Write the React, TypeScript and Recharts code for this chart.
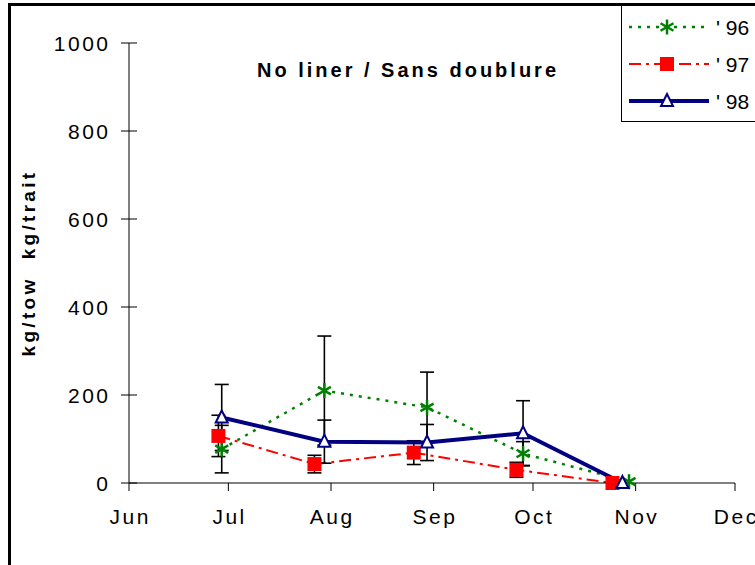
import React from 'react';
import { LineChart, Line, XAxis, YAxis, ErrorBar, Legend } from 'recharts';

// x positions are days counted from 1 June
const MONTHS = ['Jun', 'Jul', 'Aug', 'Sep', 'Oct', 'Nov', 'Dec'];
const MONTH_START_DAYS = [0, 30, 61, 92, 122, 153, 183];
const Y_TICKS = [0, 200, 400, 600, 800, 1000];

const days96 = [28, 59, 90, 119, 151];
const kg96 = [77, 210, 172, 67, 3];
const err96 = [54, 124, 80, 27, 0];

const days97 = [27, 56, 86, 117, 146];
const kg97 = [107, 43, 69, 30, 0];
const err97 = [47, 20, 27, 17, 0];

const days98 = [28, 59, 90, 119, 149];
const kg98 = [149, 94, 92, 113, 0];
const err98 = [75, 49, 41, 74, 0];

const FONT = '"Liberation Sans", Arial, Helvetica, sans-serif';

type Kind = 'star' | 'square' | 'triangle';

const toPoints = (days: number[], kg: number[], err: number[]) =>
  days.map((d, i) => ({ day: d, kg: kg[i], err: err[i] }));

const SERIES = [
  { name: "' 96", data: toPoints(days96, kg96, err96), color: '#008000', dash: '3 6', width: 2.5, kind: 'star' as Kind },
  { name: "' 97", data: toPoints(days97, kg97, err97), color: '#ff0000', dash: '12 5 3 5', width: 2, kind: 'square' as Kind },
  { name: "' 98", data: toPoints(days98, kg98, err98), color: '#000080', dash: undefined, width: 4, kind: 'triangle' as Kind },
];

function Marker({ kind, cx, cy, color }: { kind: Kind; cx: number; cy: number; color: string }) {
  if (kind === 'star') {
    const r = 7.5;
    const arms = [90, 30, 150].map((a) => {
      const dx = r * Math.cos((a * Math.PI) / 180);
      const dy = r * Math.sin((a * Math.PI) / 180);
      return <line key={a} x1={cx - dx} y1={cy - dy} x2={cx + dx} y2={cy + dy} stroke={color} strokeWidth={2.5} />;
    });
    return <g>{arms}</g>;
  }
  if (kind === 'square') {
    return <rect x={cx - 7} y={cy - 7} width={14} height={14} fill={color} />;
  }
  return (
    <polygon
      points={`${cx},${cy - 7} ${cx - 6},${cy + 5} ${cx + 6},${cy + 5}`}
      fill="#fff"
      stroke={color}
      strokeWidth={2}
      strokeLinejoin="miter"
    />
  );
}

const XTick = (props: any) => {
  const { x, y, payload } = props;
  const label = MONTHS[MONTH_START_DAYS.indexOf(payload.value)];
  return (
    <text x={x + 1.25} y={y} dy="0.71em" textAnchor="middle" fill="#000"
      style={{ fontFamily: FONT, fontSize: 21, letterSpacing: 2.5 }}>
      {label}
    </text>
  );
};

const Y_TICK_SIZE = 8;
const Y_TICK_MARGIN = 11;

const YTick = (props: any) => {
  const { x, y, payload } = props;
  const axisX = x + Y_TICK_SIZE + Y_TICK_MARGIN;
  return (
    <g>
      <line x1={axisX - Y_TICK_SIZE} x2={axisX + Y_TICK_SIZE} y1={y} y2={y} stroke="#000" strokeWidth={1} />
      <text x={x + 0.5} y={y} dy="0.36em" textAnchor="end" fill="#000"
        style={{ fontFamily: FONT, fontSize: 21, letterSpacing: 2.5 }}>
        {payload.value}
      </text>
    </g>
  );
};

const YLabel = (props: any) => {
  const vb = props.viewBox || { x: 0, y: 43, width: 129, height: 440 };
  const cx = vb.x + 35;
  const cy = vb.y + vb.height / 2;
  return (
    <text x={cx} y={cy} transform={`rotate(-90, ${cx}, ${cy})`} textAnchor="middle" fill="#000"
      style={{ fontFamily: FONT, fontSize: 19, fontWeight: 'bold', letterSpacing: 3.3, whiteSpace: 'pre' }}>
      {'kg/tow  kg/trait'}
    </text>
  );
};

const LegendBox = () => (
  <svg width={150} height={115}>
    {SERIES.map((s, i) => {
      const y = 21 + i * 37;
      return (
        <g key={s.name}>
          <line x1={7} x2={87} y1={y} y2={y} stroke={s.color} strokeWidth={s.width} strokeDasharray={s.dash} />
          <Marker kind={s.kind} cx={45} cy={y} color={s.color} />
          <text x={94} y={y} dy="0.36em" fill="#000" style={{ fontFamily: FONT, fontSize: 21 }}>
            {s.name}
          </text>
        </g>
      );
    })}
  </svg>
);

export default function App() {
  return (
    <div style={{ position: 'absolute', left: 0, top: 0, width: 755, height: 565, overflow: 'hidden', background: '#fff' }}>
      <div style={{ position: 'absolute', left: 8, top: 3, width: 800, height: 620, border: '3px solid #000', boxSizing: 'border-box' }} />
      <div style={{
        position: 'absolute', left: 208, top: 60, width: 400, textAlign: 'center',
        fontFamily: FONT, fontSize: 20, lineHeight: '20px', fontWeight: 'bold', letterSpacing: 3,
      }}>
        No liner / Sans doublure
      </div>
      <div style={{ position: 'absolute', left: 0, top: 0 }}>
        <LineChart width={755} height={565} data={SERIES[0].data} margin={{ top: 43, right: 20, bottom: 22, left: 0 }}>
          <XAxis
            type="number"
            dataKey="day"
            domain={[0, 183]}
            ticks={MONTH_START_DAYS}
            height={60}
            tickSize={8}
            tickMargin={18}
            stroke="#000"
            tick={<XTick />}
          />
          <YAxis
            type="number"
            domain={[0, 1000]}
            ticks={Y_TICKS}
            width={129}
            tickSize={Y_TICK_SIZE}
            tickMargin={Y_TICK_MARGIN}
            tickLine={false}
            stroke="#000"
            tick={<YTick />}
            label={<YLabel />}
          />
          <Legend
            layout="vertical"
            align="center"
            verticalAlign="middle"
            content={<LegendBox />}
            wrapperStyle={{
              left: 621, top: 5, width: 150, height: 117, border: '1px solid #000',
              background: '#fff', boxSizing: 'border-box',
            }}
          />
          {SERIES.map((s) => (
            <Line
              key={s.name}
              name={s.name}
              data={s.data}
              dataKey="kg"
              type="linear"
              stroke={s.color}
              strokeWidth={s.width}
              strokeDasharray={s.dash}
              isAnimationActive={false}
              dot={(p: any) => <Marker key={`${s.name}-${p.index}`} kind={s.kind} cx={p.cx} cy={p.cy} color={s.color} />}
              activeDot={false}
            >
              <ErrorBar dataKey="err" direction="y" width={7} stroke="#000" strokeWidth={1.6} isAnimationActive={false} />
            </Line>
          ))}
        </LineChart>
      </div>
    </div>
  );
}
